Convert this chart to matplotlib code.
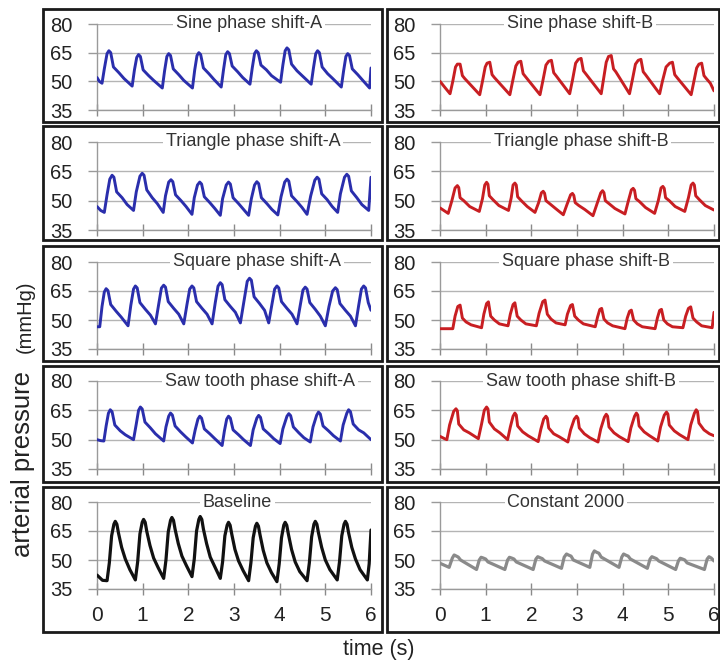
import numpy as np
import matplotlib
matplotlib.use('Agg')
import matplotlib.pyplot as plt
from matplotlib.patches import Rectangle

plt.rcParams['font.family'] = ['Liberation Sans', 'DejaVu Sans']

# traces: (time s, pressure mmHg)
sine_a = [(0, 52), (0.05, 50), (0.11, 49), (0.16, 56.5), (0.22, 64.5), (0.26, 66), (0.30, 65), (0.36, 57.5),
          (0.48, 54.5), (0.59, 51.5), (0.77, 47.5), (0.82, 56), (0.87, 62.5), (0.91, 64), (0.95, 63), (1.01, 56),
          (1.13, 53), (1.24, 50.5), (1.43, 46.5), (1.48, 55.5), (1.53, 63), (1.57, 64.5), (1.61, 63.5),
          (1.67, 56.5), (1.79, 53.5), (1.90, 50.5), (2.09, 46.5), (2.14, 56), (2.19, 63.5), (2.23, 65),
          (2.27, 64), (2.33, 57), (2.45, 54), (2.56, 51), (2.72, 47), (2.77, 56), (2.82, 64), (2.86, 65.5),
          (2.90, 64.5), (2.96, 58), (3.08, 55), (3.19, 52), (3.35, 48.5), (3.40, 57), (3.45, 64.5), (3.49, 66),
          (3.53, 65), (3.59, 58.5), (3.71, 56), (3.82, 53), (4.02, 49.5), (4.07, 58.5), (4.12, 66), (4.16, 67.5),
          (4.20, 66.5), (4.26, 59), (4.38, 55.5), (4.49, 53), (4.69, 48.5), (4.74, 57), (4.79, 64.5), (4.83, 66),
          (4.87, 65), (4.93, 57.5), (5.05, 54), (5.16, 51.5), (5.35, 47), (5.40, 55.5), (5.45, 63), (5.49, 64.5),
          (5.53, 63.5), (5.59, 56.5), (5.71, 53.5), (5.82, 50.5), (5.97, 46.5), (6.0, 57)]

sine_b = [(0, 50), (0.1, 47), (0.22, 43.5), (0.28, 50), (0.34, 57.5), (0.38, 59), (0.44, 59), (0.49, 53),
          (0.54, 51.5), (0.87, 43), (0.93, 50), (0.99, 57.5), (1.03, 59.5), (1.09, 60), (1.14, 53.5), (1.19, 52),
          (1.53, 43), (1.59, 50), (1.66, 58), (1.71, 60), (1.77, 60.5), (1.82, 54), (1.87, 52.5), (2.19, 43),
          (2.25, 50), (2.32, 58.5), (2.38, 60.5), (2.44, 61), (2.49, 54.5), (2.54, 53), (2.84, 43.5),
          (2.90, 50.5), (2.97, 59.5), (3.03, 61.5), (3.09, 62), (3.14, 55.5), (3.19, 54), (3.53, 43.5),
          (3.58, 51), (3.64, 60), (3.69, 63), (3.75, 63.5), (3.80, 56.5), (3.85, 55), (4.15, 43.5),
          (4.21, 50.5), (4.28, 59), (4.34, 61), (4.40, 61.5), (4.45, 55), (4.50, 53.5), (4.81, 43.5),
          (4.87, 50), (4.95, 57.5), (5.03, 59.5), (5.09, 60), (5.14, 53.5), (5.19, 52), (5.50, 43),
          (5.56, 50), (5.62, 57), (5.67, 59), (5.73, 59.5), (5.78, 53), (5.83, 51.5), (5.92, 49), (6.0, 45)]

tri_a = [(0, 47), (0.08, 45), (0.16, 44), (0.22, 53), (0.28, 61), (0.33, 63), (0.37, 62), (0.43, 54.5),
         (0.55, 51.5), (0.66, 48), (0.80, 45), (0.86, 54.5), (0.94, 62.5), (0.99, 64), (1.03, 63), (1.09, 55.5),
         (1.21, 51.5), (1.32, 48.5), (1.45, 44), (1.50, 52.5), (1.57, 59.5), (1.62, 60.7), (1.66, 59.7),
         (1.72, 53), (1.84, 50), (1.95, 47), (2.08, 43), (2.13, 51.5), (2.20, 58), (2.25, 59.5), (2.29, 58.5),
         (2.35, 52), (2.47, 49), (2.58, 46), (2.70, 42.5), (2.75, 51), (2.83, 58), (2.88, 59.5), (2.92, 58.5),
         (2.98, 51.5), (3.10, 48.5), (3.21, 45.5), (3.32, 42.5), (3.38, 51), (3.45, 58), (3.50, 59.7),
         (3.54, 58.7), (3.60, 51.5), (3.72, 48.5), (3.83, 45.5), (3.96, 42.7), (4.03, 52), (4.11, 59.5),
         (4.16, 61), (4.20, 60), (4.26, 52.5), (4.38, 49.5), (4.49, 46.5), (4.60, 43), (4.68, 52.5),
         (4.77, 60.5), (4.82, 62), (4.86, 61), (4.92, 53.5), (5.04, 50.5), (5.15, 47), (5.27, 44),
         (5.33, 53.5), (5.42, 62), (5.47, 63.5), (5.51, 62.5), (5.57, 55), (5.69, 51.5), (5.80, 48),
         (5.95, 45), (6.0, 62)]

tri_b = [(0, 46.3), (0.18, 43.5), (0.26, 50), (0.33, 56.5), (0.38, 57.7), (0.41, 56.7), (0.44, 51.5), (0.52, 50),
         (0.65, 47), (0.86, 44.5), (0.93, 51), (0.98, 58), (1.02, 59.4), (1.05, 58.4), (1.08, 52.5), (1.16, 50.5),
         (1.29, 47.5), (1.50, 45), (1.56, 51.5), (1.60, 58), (1.64, 59), (1.67, 58), (1.70, 52), (1.78, 50),
         (1.91, 47), (2.08, 44), (2.16, 49), (2.22, 54), (2.26, 54.8), (2.29, 53.8), (2.32, 50), (2.40, 48.5),
         (2.53, 46), (2.70, 42.8), (2.78, 48), (2.86, 53), (2.90, 53.7), (2.93, 52.7), (2.96, 49), (3.04, 47.5),
         (3.17, 45.5), (3.35, 42.3), (3.44, 48.5), (3.52, 54), (3.56, 55.1), (3.59, 54.1), (3.62, 50),
         (3.70, 48.5), (3.83, 46), (4.05, 43.2), (4.12, 49.5), (4.19, 55.5), (4.23, 56.3), (4.26, 55.3),
         (4.29, 51), (4.37, 49.5), (4.50, 46.5), (4.70, 43.5), (4.78, 50), (4.84, 56.5), (4.88, 57.3),
         (4.91, 56.3), (4.94, 51.5), (5.02, 50), (5.15, 47), (5.36, 44.5), (5.44, 51.5), (5.50, 58),
         (5.54, 59), (5.57, 58), (5.60, 52.5), (5.68, 50.5), (5.81, 47.5), (6.0, 45.2)]

square_a = [(0, 46.5), (0.06, 46.5), (0.11, 57), (0.16, 64.5), (0.20, 66.2), (0.24, 65.2), (0.30, 58),
            (0.42, 54.5), (0.53, 51.5), (0.68, 47), (0.74, 57.5), (0.80, 66), (0.84, 67.6), (0.88, 66.6),
            (0.94, 59), (1.06, 55.5), (1.17, 52.5), (1.28, 48), (1.35, 58), (1.41, 66.5), (1.46, 68), (1.50, 67),
            (1.56, 59.5), (1.68, 56), (1.79, 53), (1.90, 48), (1.97, 58), (2.03, 66), (2.08, 67.6), (2.12, 66.6),
            (2.18, 59.5), (2.30, 56), (2.41, 53), (2.52, 48), (2.59, 59), (2.65, 67.5), (2.70, 69.3),
            (2.74, 68.3), (2.80, 60.5), (2.92, 57), (3.03, 54), (3.14, 48.5), (3.22, 60), (3.29, 70),
            (3.34, 71.6), (3.38, 70.6), (3.44, 62), (3.56, 58.5), (3.67, 55), (3.76, 48.5), (3.83, 58),
            (3.89, 66), (3.94, 67.6), (3.98, 66.6), (4.04, 59.5), (4.16, 56), (4.27, 53), (4.38, 48),
            (4.45, 57.5), (4.51, 65.5), (4.56, 67), (4.60, 66), (4.66, 59), (4.78, 55.5), (4.89, 52), (5.00, 47),
            (5.08, 57), (5.16, 65), (5.22, 66.7), (5.26, 65.7), (5.32, 58.5), (5.44, 55), (5.55, 52), (5.66, 47),
            (5.73, 57.5), (5.79, 66), (5.84, 67.6), (5.88, 66.6), (5.94, 59), (6.0, 55)]

square_b = [(0, 45.5), (0.28, 45.5), (0.33, 52), (0.39, 57), (0.44, 57.7), (0.49, 51), (0.57, 49), (0.68, 47.5),
            (0.91, 46), (0.96, 53), (1.02, 58.5), (1.06, 59.4), (1.11, 52), (1.19, 50), (1.30, 48), (1.49, 47),
            (1.54, 53), (1.60, 58), (1.64, 58.9), (1.69, 52), (1.77, 50), (1.88, 48), (2.11, 47),
            (2.17, 53.5), (2.25, 59.5), (2.30, 60.3), (2.35, 53), (2.43, 50.5), (2.54, 48.5), (2.74, 47.5),
            (2.79, 53), (2.86, 57.5), (2.90, 58), (2.95, 52), (3.03, 50), (3.14, 48), (3.40, 46.5),
            (3.45, 51.5), (3.50, 55.5), (3.54, 56), (3.59, 50.5), (3.67, 48.5), (3.78, 47), (4.05, 45.5),
            (4.10, 51), (4.15, 54.5), (4.19, 55.1), (4.24, 50), (4.32, 48), (4.43, 46.5), (4.71, 45.5),
            (4.76, 51), (4.81, 55), (4.85, 55.5), (4.90, 50), (4.98, 48), (5.09, 46.5), (5.32, 46),
            (5.38, 52), (5.44, 56), (5.49, 56.8), (5.54, 51), (5.62, 49), (5.73, 47), (5.96, 46), (6.0, 54)]

saw_a = [(0, 50), (0.08, 49.5), (0.15, 49.3), (0.20, 57), (0.25, 63.5), (0.29, 65.3), (0.33, 64.3), (0.39, 57.5),
         (0.51, 54.5), (0.62, 52.5), (0.80, 50), (0.86, 58), (0.91, 65), (0.95, 66.7), (0.99, 65.7), (1.05, 59),
         (1.17, 56), (1.28, 53), (1.46, 49.3), (1.51, 56.5), (1.57, 62), (1.61, 63.6), (1.65, 62.6), (1.71, 57),
         (1.83, 54), (1.94, 51.5), (2.09, 48.3), (2.15, 55), (2.21, 60.5), (2.25, 62), (2.29, 61), (2.35, 55.5),
         (2.47, 53), (2.58, 50.5), (2.74, 47), (2.79, 54.5), (2.84, 60.5), (2.88, 62), (2.92, 61), (2.98, 55),
         (3.10, 52.5), (3.21, 50), (3.36, 47), (3.42, 55), (3.50, 61), (3.54, 62.4), (3.58, 61.4), (3.64, 55.5),
         (3.76, 53), (3.87, 50.5), (4.01, 48), (4.07, 55.5), (4.16, 62), (4.20, 63.3), (4.24, 62.3),
         (4.30, 56.5), (4.42, 53.5), (4.53, 51), (4.67, 48.8), (4.73, 56.5), (4.81, 62.5), (4.85, 64.1),
         (4.89, 63.1), (4.95, 57), (5.07, 54.5), (5.18, 52), (5.33, 49.3), (5.39, 57.5), (5.47, 63.5),
         (5.51, 65.3), (5.55, 64.3), (5.61, 58), (5.73, 55), (5.84, 53.5), (6.0, 50)]

saw_b = [(0, 51.7), (0.1, 50.5), (0.15, 50), (0.21, 57.5), (0.30, 64.5), (0.35, 65.8), (0.38, 64.8), (0.41, 58),
         (0.52, 55), (0.64, 53.5), (0.84, 50.5), (0.91, 58), (0.97, 65), (1.02, 66.7), (1.05, 65.7), (1.08, 59),
         (1.19, 55.5), (1.31, 53.5), (1.48, 50), (1.54, 56.5), (1.60, 62), (1.64, 63.6), (1.67, 62.6), (1.70, 57),
         (1.81, 54), (1.93, 52), (2.15, 49), (2.21, 55.5), (2.27, 60.5), (2.32, 62), (2.35, 61), (2.38, 56),
         (2.49, 53), (2.61, 51.5), (2.80, 48.8), (2.86, 55), (2.94, 60.5), (2.99, 62), (3.02, 61), (3.05, 56),
         (3.16, 53), (3.28, 51), (3.46, 48.8), (3.52, 55.5), (3.60, 61.5), (3.64, 63), (3.67, 62), (3.70, 56.5),
         (3.81, 53.5), (3.93, 51.5), (4.12, 49), (4.18, 56), (4.26, 62), (4.30, 63.6), (4.33, 62.6), (4.36, 57),
         (4.47, 54), (4.59, 52), (4.77, 49.3), (4.83, 56.5), (4.91, 62.5), (4.96, 64.1), (4.99, 63.1),
         (5.02, 57.5), (5.13, 54.5), (5.25, 52.5), (5.43, 50), (5.49, 57.5), (5.57, 63.5), (5.61, 65.3),
         (5.64, 64.3), (5.67, 58.5), (5.78, 55), (5.90, 53), (6.0, 52)]

baseline = [(0, 42.2), (0.12, 39.5), (0.22, 39.3), (0.27, 48.5), (0.32, 62.5), (0.37, 68.5), (0.40, 70),
            (0.435, 68.5), (0.47, 64), (0.54, 56.5), (0.62, 50.5), (0.72, 45),
            (0.84, 39.7), (0.89, 49), (0.94, 63.5), (0.99, 69.5), (1.02, 71), (1.055, 69.5), (1.09, 64.8),
            (1.16, 57.5), (1.24, 51), (1.34, 46),
            (1.46, 40.5), (1.51, 50), (1.56, 64.5), (1.61, 70.5), (1.64, 72), (1.675, 70.5), (1.71, 65.9),
            (1.78, 58.5), (1.86, 52), (1.96, 47),
            (2.08, 41.4), (2.13, 50.5), (2.18, 65), (2.23, 71), (2.26, 72.5), (2.295, 71), (2.33, 66),
            (2.40, 58.5), (2.48, 51.5), (2.58, 46.5),
            (2.70, 40.5), (2.75, 49), (2.80, 62.5), (2.85, 68), (2.88, 69.5), (2.915, 68), (2.95, 63.5),
            (3.02, 55.5), (3.10, 49.5), (3.20, 44.5),
            (3.32, 39.3), (3.37, 48.5), (3.42, 61.5), (3.47, 67.5), (3.50, 69), (3.535, 67.5), (3.57, 63),
            (3.64, 55), (3.72, 48.5), (3.82, 43.5),
            (3.94, 38.8), (3.99, 48), (4.04, 61.5), (4.09, 68), (4.12, 69.5), (4.155, 68), (4.19, 63.5),
            (4.26, 55.5), (4.34, 49), (4.44, 44),
            (4.60, 39.3), (4.65, 48.5), (4.70, 62), (4.75, 68.5), (4.78, 70), (4.815, 68.5), (4.85, 64),
            (4.92, 56.5), (5.00, 50), (5.10, 45),
            (5.26, 39.7), (5.31, 49), (5.36, 62.5), (5.41, 68.5), (5.44, 70), (5.475, 68.5), (5.51, 64),
            (5.58, 56.5), (5.66, 50.5), (5.76, 45), (5.92, 39.7), (5.96, 48), (6.0, 65.5)]

constant = [(0, 48.3), (0.20, 46.2), (0.27, 51), (0.31, 52.6), (0.36, 52), (0.40, 51.5), (0.45, 50), (0.80, 45.1),
            (0.86, 50), (0.90, 51.4), (0.95, 51), (1.00, 50.5), (1.05, 49), (1.42, 45.1),
            (1.48, 50), (1.52, 51.4), (1.57, 51), (1.62, 50.5), (1.67, 49), (2.04, 45.1),
            (2.10, 50.5), (2.14, 51.7), (2.19, 51.2), (2.24, 50.7), (2.29, 49.5), (2.66, 45.7),
            (2.72, 51.5), (2.77, 53.1), (2.82, 52.5), (2.87, 52), (2.92, 50), (3.28, 46.2),
            (3.34, 53), (3.38, 54.7), (3.43, 54), (3.48, 53.5), (3.53, 51.5), (3.92, 46.2),
            (3.98, 51.5), (4.02, 53.1), (4.07, 52.5), (4.12, 52), (4.17, 50.5), (4.54, 45.7),
            (4.60, 50.5), (4.64, 51.7), (4.69, 51.2), (4.74, 50.7), (4.79, 49.5), (5.16, 45.1),
            (5.22, 49.5), (5.26, 50.9), (5.31, 50.5), (5.36, 50), (5.41, 48.5), (5.79, 45.1),
            (5.85, 50.5), (5.89, 51.7), (5.94, 51), (6.0, 49.5)]

titles = [['Sine phase shift-A', 'Sine phase shift-B'],
          ['Triangle phase shift-A', 'Triangle phase shift-B'],
          ['Square phase shift-A', 'Square phase shift-B'],
          ['Saw tooth phase shift-A', 'Saw tooth phase shift-B'],
          ['Baseline', 'Constant 2000']]
traces = [[sine_a, sine_b], [tri_a, tri_b], [square_a, square_b], [saw_a, saw_b], [baseline, constant]]
yticks = [35, 50, 65, 80]
xticks = [0, 1, 2, 3, 4, 5, 6]

BLUE = '#2a2eac'
RED = '#c81e22'
colors = [[BLUE, RED]] * 4 + [['#111111', '#8a8a8a']]
title_x = [[3.33, 3.07], [3.42, 3.09], [3.5, 3.2], [3.57, 3.09], [3.07, 2.76]]

W, H = 720, 664
fig = plt.figure(figsize=(W / 100, H / 100), dpi=100)


def rect(x0, ytop, x1, ybot):
    return [x0 / W, 1 - ybot / H, (x1 - x0) / W, (ybot - ytop) / H]


ax_cols = [(97, 371), (440, 714)]
ax_rows = [(24, 110), (142, 230), (262, 349), (381, 469), (502, 589)]
box_cols = [(43, 382), (387, 719)]
box_rows = [(9, 122), (126, 240), (246, 361), (366, 482), (487, 632)]

for r in range(5):
    for c in range(2):
        bx = rect(box_cols[c][0], box_rows[r][0], box_cols[c][1], box_rows[r][1])
        fig.patches.append(Rectangle((bx[0], bx[1]), bx[2], bx[3], transform=fig.transFigure,
                                     fill=False, lw=2.0, edgecolor='#1a1a1a'))

        ax = fig.add_axes(rect(ax_cols[c][0], ax_rows[r][0], ax_cols[c][1], ax_rows[r][1]))
        pts = np.array(traces[r][c])
        ax.plot(pts[:, 0], pts[:, 1], color=colors[r][c], lw=2.1 if r < 4 else 2.3,
                solid_joinstyle='round', solid_capstyle='round', zorder=4)
        ax.set_xlim(0, 6)
        ax.set_ylim(35, 80)
        ax.set_yticks(yticks)
        ax.set_xticks(xticks)
        ax.set_axisbelow(True)
        ax.grid(axis='y', color='#b4b4b4', lw=1.0)
        for s in ['top', 'right']:
            ax.spines[s].set_visible(False)
        for s in ['left', 'bottom']:
            ax.spines[s].set_color('#9a9a9a')
            ax.spines[s].set_linewidth(1.0)
        ax.tick_params(axis='y', direction='out', length=6.5, width=1.0, color='#9a9a9a',
                       labelsize=14.5, pad=11, labelcolor='#222222')
        ax.tick_params(axis='x', direction='inout', length=9, width=1.0, color='#8a8a8a',
                       labelsize=15, pad=8, labelcolor='#222222', labelbottom=(r == 4))
        ax.patch.set_alpha(0)
        ax.text(title_x[r][c], 80, titles[r][c], ha='center', va='center', fontsize=13,
                color='#333333', zorder=5, clip_on=False,
                bbox=dict(facecolor='white', edgecolor='none', boxstyle='square,pad=0.15'))

fig.text(23 / W, 1 - 464 / H, 'arterial pressure', rotation=90, ha='center', va='center',
         fontsize=18.5, color='#222222')
fig.text(25 / W, 1 - 317 / H, '(mmHg)', rotation=90, ha='center', va='center',
         fontsize=14.5, color='#222222')
fig.text(379 / W, 1 - 650 / H, 'time (s)', ha='center', va='center', fontsize=15.5, color='#222222')

fig.savefig('out.png', dpi=100, facecolor='white')
